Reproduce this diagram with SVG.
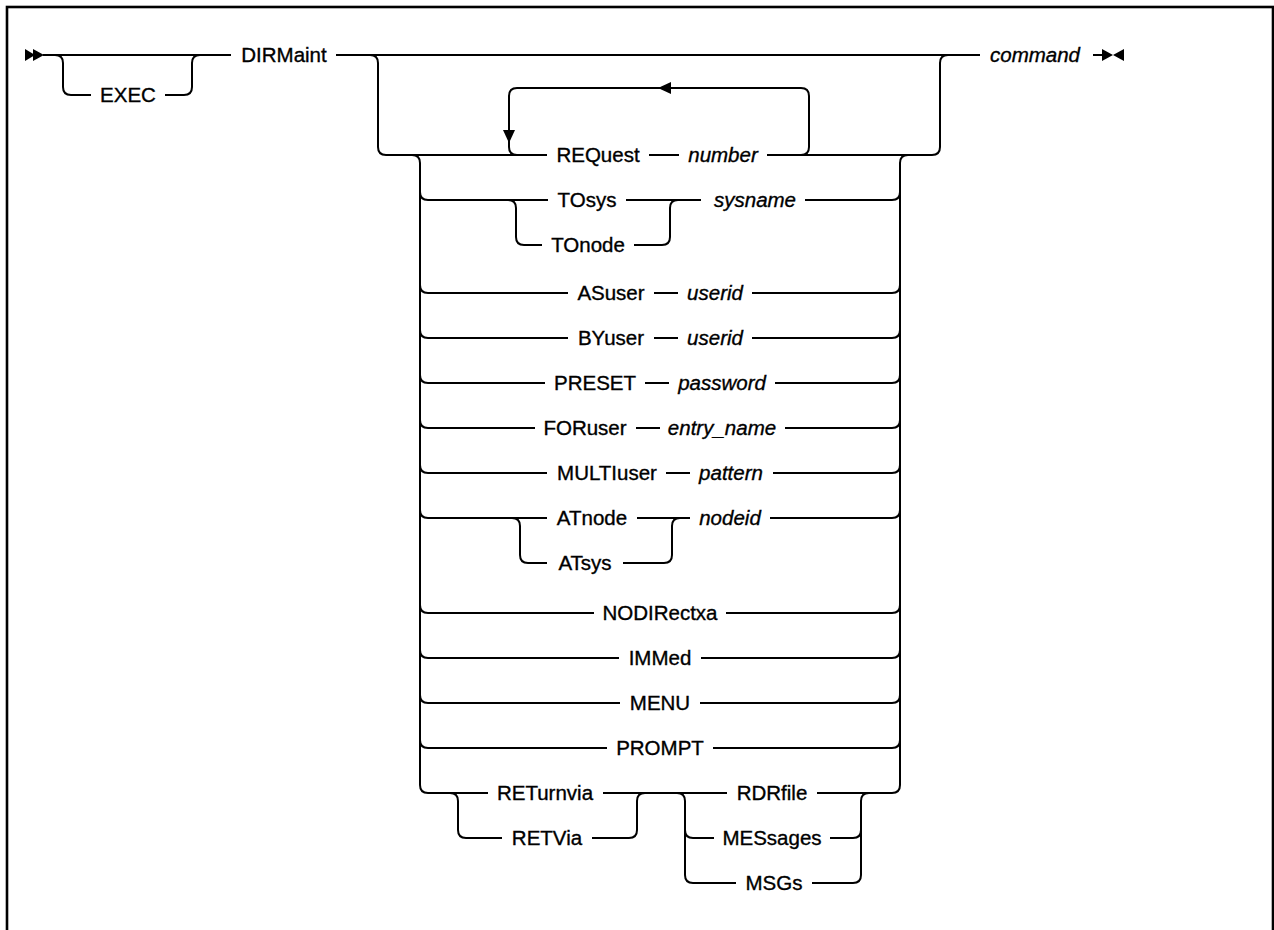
<svg xmlns="http://www.w3.org/2000/svg" width="1274" height="930" viewBox="0 0 1274 930">
<style>
.ln{fill:none;stroke:#000;stroke-width:2;stroke-linecap:butt}
.bd{fill:none;stroke:#000;stroke-width:2.6}
.ah{fill:#000;stroke:none}
text{font-family:"Liberation Sans",Arial,sans-serif;font-size:20.5px;fill:#000;stroke:#000;stroke-width:0.35;text-anchor:middle}
.v{font-style:italic}
</style>
<rect width="1274" height="930" fill="#fff"/>
<rect class="bd" x="7" y="7" width="1266" height="1000"/>

<g id="connectors">
  <!-- start / end markers -->
  <polygon class="ah" points="25,49 35,55 25,61"/>
  <polygon class="ah" points="33,49 44,55 33,61"/>
  <polygon class="ah" points="1102,49 1113,55 1102,61"/>
  <polygon class="ah" points="1124,49 1113,55 1124,61"/>
  <!-- main line -->
  <path class="ln" d="M43 55H231"/>
  <path class="ln" d="M55 55Q63 55 63 63V87Q63 95 71 95H91"/>
  <path class="ln" d="M165 95H184Q192 95 192 87V63Q192 55 200 55"/>
  <path class="ln" d="M336 55H980"/>
  <path class="ln" d="M1093 55H1105"/>
  <!-- outer optional branch -->
  <path class="ln" d="M370 55Q378 55 378 63V147Q378 155 386 155H547"/>
  <path class="ln" d="M767 155H932Q940 155 940 147V63Q940 55 948 55"/>
  <path class="ln" d="M649 155H679"/>
  <!-- repeat loop -->
  <path class="ln" d="M801 155Q809 155 809 147V96Q809 88 801 88H517Q509 88 509 96V147Q509 155 517 155"/>
  <polygon class="ah" points="658,88 671,82 671,94"/>
  <polygon class="ah" points="503,130 515,130 509,143"/>
  <!-- stack verticals -->
  <path class="ln" d="M412 155Q420 155 420 163V785Q420 793 428 793"/>
  <path class="ln" d="M908 155Q900 155 900 163V785Q900 793 892 793"/>
  <path class="ln" d="M420 192Q420 200 428 200M420 285Q420 293 428 293M420 330Q420 338 428 338M420 375Q420 383 428 383M420 420Q420 428 428 428M420 465Q420 473 428 473M420 510Q420 518 428 518M420 605Q420 613 428 613M420 650Q420 658 428 658M420 695Q420 703 428 703M420 740Q420 748 428 748"/>
  <path class="ln" d="M892 200Q900 200 900 192M892 293Q900 293 900 285M892 338Q900 338 900 330M892 383Q900 383 900 375M892 428Q900 428 900 420M892 473Q900 473 900 465M892 518Q900 518 900 510M892 613Q900 613 900 605M892 658Q900 658 900 650M892 703Q900 703 900 695M892 748Q900 748 900 740"/>
  <!-- TOsys / TOnode -->
  <path class="ln" d="M428 200H548M626 200H701M805 200H892"/>
  <path class="ln" d="M508 200Q516 200 516 208V237Q516 245 524 245H542M634 245H662Q670 245 670 237V208Q670 200 678 200"/>
  <!-- ASuser -->
  <path class="ln" d="M428 293H568M654 293H678M752 293H892"/>
  <!-- BYuser -->
  <path class="ln" d="M428 338H568M654 338H678M752 338H892"/>
  <!-- PRESET -->
  <path class="ln" d="M428 383H545M645 383H669M775 383H892"/>
  <!-- FORuser -->
  <path class="ln" d="M428 428H535M636 428H660M785 428H892"/>
  <!-- MULTIuser -->
  <path class="ln" d="M428 473H547M666 473H690M773 473H892"/>
  <!-- ATnode / ATsys -->
  <path class="ln" d="M428 518H547M637 518H690M770 518H892"/>
  <path class="ln" d="M512 518Q520 518 520 526V555Q520 563 528 563H547M623 563H664Q672 563 672 555V526Q672 518 680 518"/>
  <!-- single keyword rows -->
  <path class="ln" d="M428 613H594M726 613H892"/>
  <path class="ln" d="M428 658H619M701 658H892"/>
  <path class="ln" d="M428 703H620M700 703H892"/>
  <path class="ln" d="M428 748H607M713 748H892"/>
  <!-- RETurnvia / RETVia -->
  <path class="ln" d="M428 793H488M603 793H727M817 793H892"/>
  <path class="ln" d="M450 793Q458 793 458 801V830Q458 838 466 838H502M592 838H629Q637 838 637 830V801Q637 793 645 793"/>
  <!-- RDRfile / MESsages / MSGs -->
  <path class="ln" d="M677 793Q685 793 685 801V875Q685 883 693 883H736M812 883H853Q861 883 861 875V801Q861 793 869 793"/>
  <path class="ln" d="M685 830Q685 838 693 838H714M830 838H853Q861 838 861 830"/>
</g>

<g id="n-exec"><text x="128" y="102">EXEC</text></g>
<g id="n-dirmaint"><text x="284" y="62">DIRMaint</text></g>
<g id="n-command"><text class="v" x="1035" y="62">command</text></g>
<g id="n-request"><text x="598" y="162">REQuest</text><text class="v" x="723" y="162">number</text></g>
<g id="n-tosys"><text x="587" y="207">TOsys</text></g>
<g id="n-tonode"><text x="588" y="252">TOnode</text></g>
<g id="n-sysname"><text class="v" x="755" y="207">sysname</text></g>
<g id="n-asuser"><text x="611" y="300">ASuser</text><text class="v" x="715" y="300">userid</text></g>
<g id="n-byuser"><text x="611" y="345">BYuser</text><text class="v" x="715" y="345">userid</text></g>
<g id="n-preset"><text x="595" y="390">PRESET</text><text class="v" x="722" y="390">password</text></g>
<g id="n-foruser"><text x="585" y="435">FORuser</text><text class="v" x="722" y="435">entry_name</text></g>
<g id="n-multiuser"><text x="607" y="480">MULTIuser</text><text class="v" x="731" y="480">pattern</text></g>
<g id="n-atnode"><text x="592" y="525">ATnode</text></g>
<g id="n-atsys"><text x="585" y="570">ATsys</text></g>
<g id="n-nodeid"><text class="v" x="730" y="525">nodeid</text></g>
<g id="n-nodirectxa"><text x="660" y="620">NODIRectxa</text></g>
<g id="n-immed"><text x="660" y="665">IMMed</text></g>
<g id="n-menu"><text x="660" y="710">MENU</text></g>
<g id="n-prompt"><text x="660" y="755">PROMPT</text></g>
<g id="n-returnvia"><text x="545" y="800">RETurnvia</text></g>
<g id="n-retvia"><text x="547" y="845">RETVia</text></g>
<g id="n-rdrfile"><text x="772" y="800">RDRfile</text></g>
<g id="n-messages"><text x="772" y="845">MESsages</text></g>
<g id="n-msgs"><text x="774" y="890">MSGs</text></g>
</svg>
